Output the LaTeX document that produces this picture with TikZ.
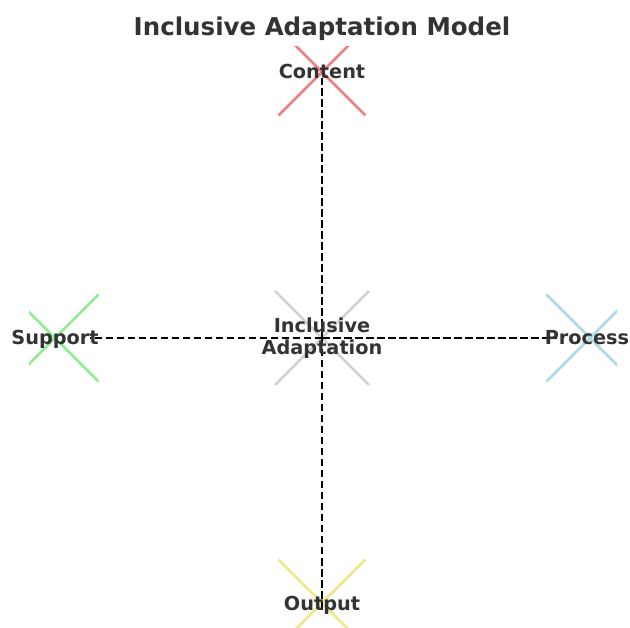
\documentclass[tikz,border=0pt]{standalone}
\usepackage{fontspec}
\setmainfont{DejaVu Sans}
\usepackage{tikz}
\usetikzlibrary{positioning,calc}

\definecolor{txtgray}{HTML}{333333}
\definecolor{mkcontent}{HTML}{F08080}
\definecolor{mksupport}{HTML}{90EE90}
\definecolor{mkprocess}{HTML}{ADD8E6}
\definecolor{mkoutput}{HTML}{F0E68C}
\definecolor{mkcenter}{HTML}{D3D3D3}

\tikzset{
	lbl/.style={font=\bfseries\fontsize{19.3}{22}\selectfont,text=txtgray,inner sep=0pt,anchor=base,align=center},
	link/.style={black,line width=2.8pt,dash pattern=on 7.5pt off 3.5pt},
	cross/.style={line width=2.5pt}
}

\begin{document}
\begin{tikzpicture}[x=1pt,y=-1pt]
	\useasboundingbox (0,0) rectangle (630,628);
	% data points
	\coordinate (center) at (322,338);
	\coordinate (content) at (322,72);
	\coordinate (support) at (55,338);
	\coordinate (process) at (590,338);
	\coordinate (output) at (322,603);
	% markers, clipped to the axes
	\begin{scope}
		\clip (29,47) rectangle (617,628);
		\foreach \p/\col/\r in {content/mkcontent/43.5,support/mksupport/43.5,process/mkprocess/43.5,output/mkoutput/43.5,center/mkcenter/47}
			\draw[cross,\col] ($(\p)+(-\r,-\r)$) -- ($(\p)+(\r,\r)$) ($(\p)+(-\r,\r)$) -- ($(\p)+(\r,-\r)$);
	\end{scope}
	% links
	\draw[link,shorten >=6pt] (center) -- (content);
	\draw[link,shorten >=-8pt] (center) -- (output);
	\draw[link,shorten >=35pt] (center) -- (support);
	\draw[link,shorten >=33pt] (center) -- (process);
	% labels
	\node[lbl] (contentlbl) at (322,79) {Content};
	\node[lbl] (supportlbl) at (55,345) {Support};
	\node[lbl] (processlbl) at (587,345) {Process};
	\node[lbl] (outputlbl) at (322,610) {Output};
	\node[lbl,anchor=center] (centerlbl) at (322,338) {Inclusive\\Adaptation};
	\node[lbl,font=\bfseries\fontsize{24.5}{28}\selectfont] (title) at (322,36) {Inclusive Adaptation Model};
\end{tikzpicture}
\end{document}
